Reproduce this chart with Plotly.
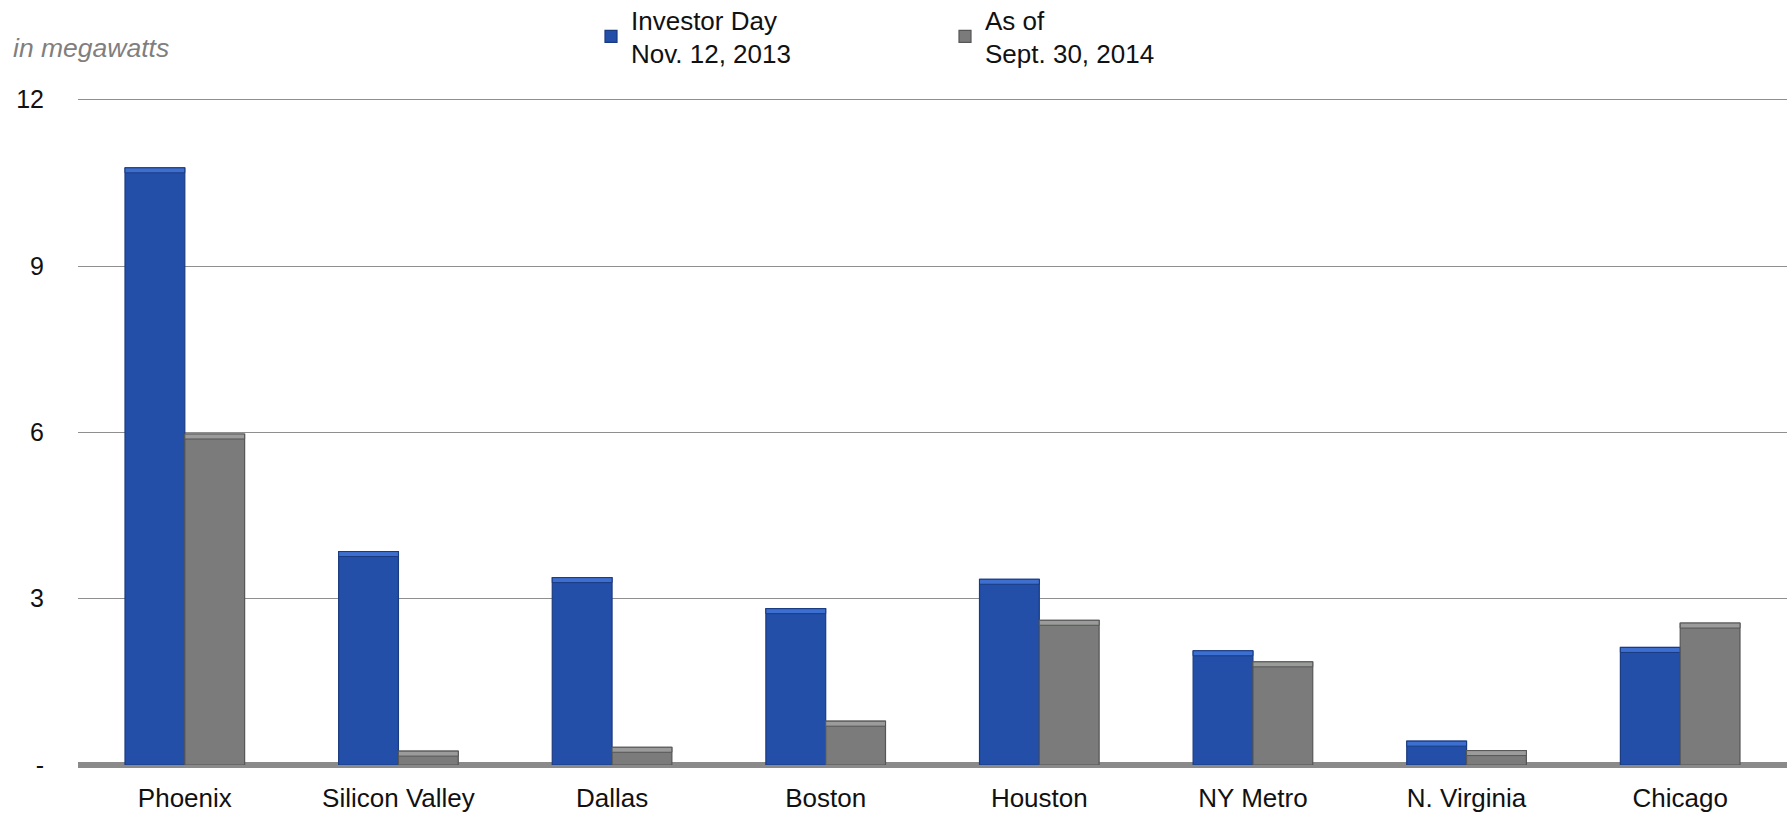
import plotly.graph_objects as go

# Markets and megawatt figures
markets = ["Phoenix", "Silicon Valley", "Dallas", "Boston", "Houston",
           "NY Metro", "N. Virginia", "Chicago"]
investor_day_2013 = [10.77, 3.85, 3.38, 2.82, 3.35, 2.06, 0.43, 2.12]
as_of_sept_2014 = [5.97, 0.25, 0.32, 0.79, 2.61, 1.86, 0.26, 2.56]

series_names = ["Investor Day<br>Nov. 12, 2013", "As of<br>Sept. 30, 2014"]

y_tick_vals = [0, 3, 6, 9, 12]
y_tick_text = ["-", "3", "6", "9", "12"]

W, H = 1791, 813
FONT = "Liberation Sans, Arial, sans-serif"
BLUE = "#234fa8"
BLUE_EDGE = "#1a3b80"
BLUE_LIGHT = "#3d6fd0"
GREY = "#7a7b7a"
GREY_EDGE = "#555655"
GREY_LIGHT = "#9a9b9a"
BEVEL = 0.09  # depth of the lighter bevel strip on each bar top, in MW

fig = go.Figure()
for vals, name, fill, edge, light, grp, leg in [
    (investor_day_2013, series_names[0], BLUE, BLUE_EDGE, BLUE_LIGHT, "a", "legend"),
    (as_of_sept_2014, series_names[1], GREY, GREY_EDGE, GREY_LIGHT, "b", "legend2"),
]:
    fig.add_trace(go.Bar(
        x=markets, y=vals, name=name, offsetgroup=grp,
        marker=dict(color=fill, line=dict(color=edge, width=1.2)),
        legend=leg,
    ))
    # lighter bevel band along the top of each bar
    fig.add_trace(go.Bar(
        x=markets, y=[BEVEL] * len(vals), base=[v - BEVEL for v in vals],
        offsetgroup=grp, showlegend=False, hoverinfo="skip",
        marker=dict(color=light, line=dict(color=edge, width=1.0)),
    ))

legend_common = dict(
    orientation="v", xanchor="left", yanchor="top", valign="middle",
    font=dict(family=FONT, size=26, color="#111111"),
    bgcolor="rgba(0,0,0,0)", borderwidth=0, tracegroupgap=0,
)

PLOT_L, PLOT_R, PLOT_T, PLOT_B = 78, 4, 98, 48
Y_TOP = 12.03
plot_w = W - PLOT_L - PLOT_R
plot_h = H - PLOT_T - PLOT_B


def px_x(px):
    # convert a page x position to paper coordinates
    return (px - PLOT_L) / plot_w


def px_y(py):
    # convert a page y position to paper coordinates
    return (H - PLOT_B - py) / plot_h


fig.update_layout(
    width=W, height=H, showlegend=True,
    margin=dict(l=PLOT_L, r=PLOT_R, t=PLOT_T, b=PLOT_B, autoexpand=False),
    paper_bgcolor="white", plot_bgcolor="white",
    barmode="group", bargap=0.44, bargroupgap=0.0,
    font=dict(family=FONT, size=25, color="#111111"),
    legend=dict(x=px_x(591), y=px_y(-4), **legend_common),
    legend2=dict(x=px_x(945), y=px_y(-4), **legend_common),
    xaxis=dict(
        showgrid=False, showline=False, ticks="", tickangle=0,
        tickfont=dict(family=FONT, size=26, color="#111111"),
        ticklabelstandoff=15,
    ),
    yaxis=dict(
        range=[0, Y_TOP], tickvals=y_tick_vals, ticktext=y_tick_text,
        showgrid=True, gridcolor="#8f8f8f", gridwidth=1.4,
        zeroline=True, zerolinecolor="#8a8a8a", zerolinewidth=6,
        showline=False, ticks="",
        tickfont=dict(family=FONT, size=25, color="#111111"),
        ticklabelstandoff=33,
    ),
    annotations=[dict(
        text="<i>in megawatts</i>", xref="paper", yref="paper",
        x=px_x(11), y=px_y(48),
        xanchor="left", yanchor="middle", showarrow=False,
        font=dict(family=FONT, size=26.5, color="#7f7f7f"),
    )],
)

fig.write_html("out.html")
